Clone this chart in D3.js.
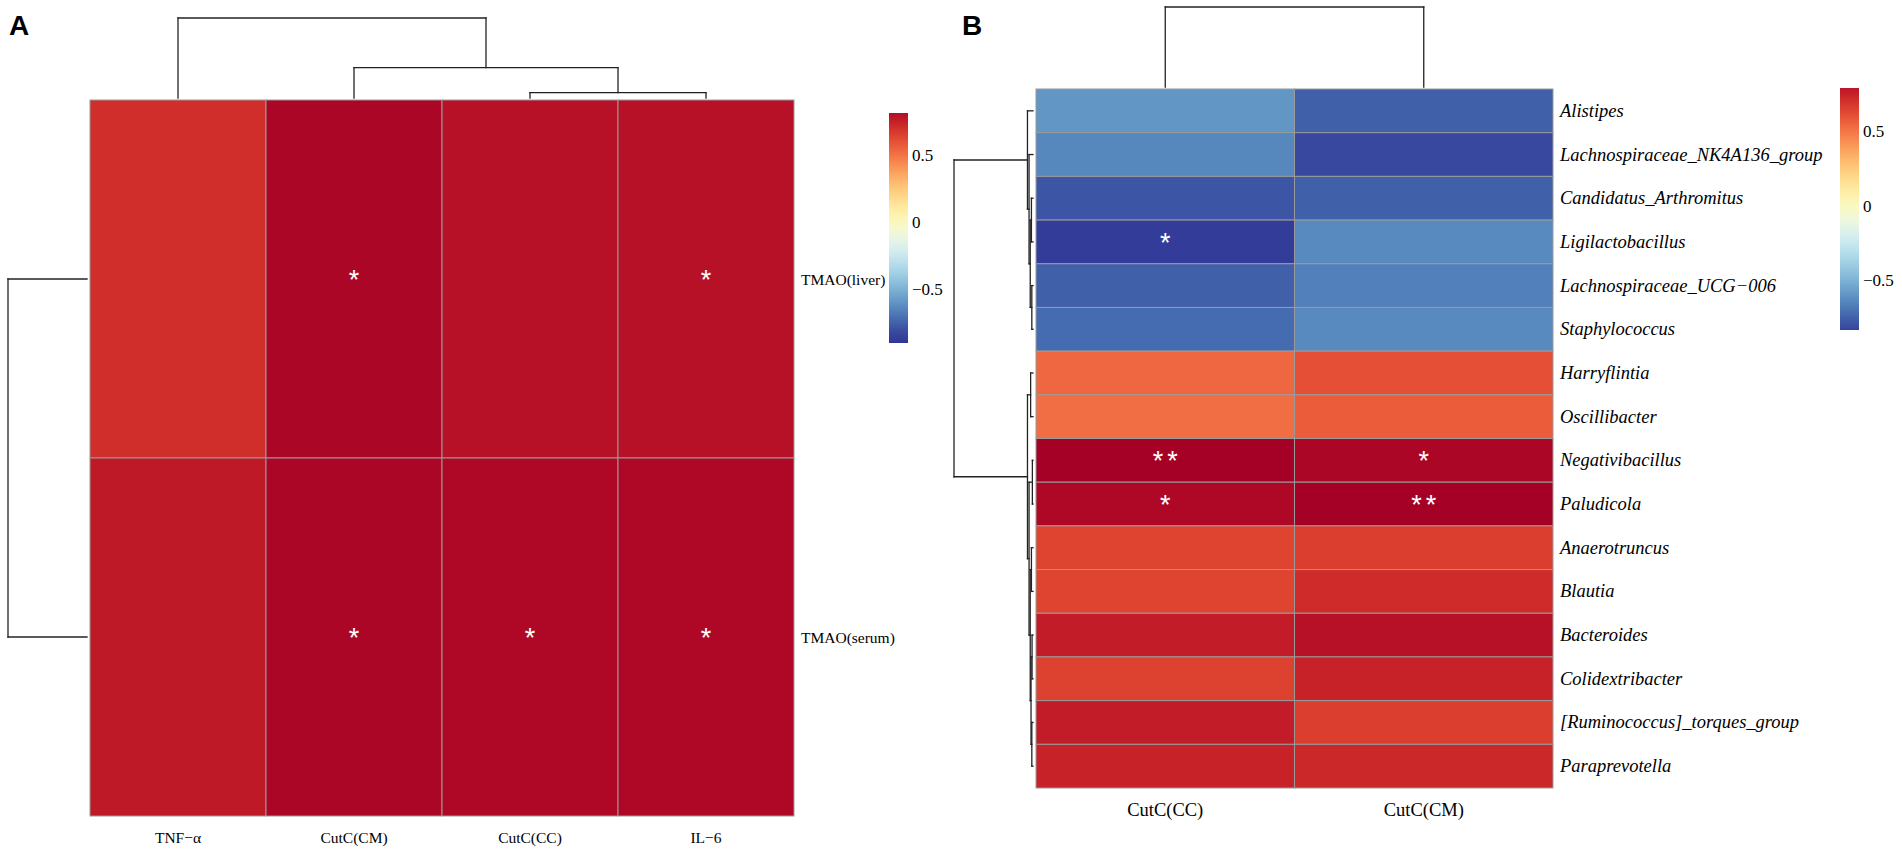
<!doctype html>
<html lang="en">
<head>
<meta charset="UTF-8">
<title>Correlation heatmaps</title>
<script src="https://cdn.jsdelivr.net/npm/d3@7"></script>
<style>
  body { margin: 0; background: #fff; }
  text { font-family: "Liberation Serif", "Times New Roman", serif; }
</style>
</head>
<body>
<script>
// ---- data, panel A ----
var colsA = ["TNF\u2212\u03b1", "CutC(CM)", "CutC(CC)", "IL\u22126"];
var rowsA = ["TMAO(liver)", "TMAO(serum)"];
var valsA = [
  [0.71, 0.85, 0.81, 0.81],
  [0.78, 0.85, 0.84, 0.84]
];
var starsA = [
  ["", "*", "", "*"],
  ["", "*", "*", "*"]
];
// column tree: [TNF, [CM, [CC, IL6]]]
var colTreeA = {h: 1, c: ["TNF\u2212\u03b1", {h: 0.38, c: ["CutC(CM)", {h: 0.067, c: ["CutC(CC)", "IL\u22126"]}]}]};
var rowTreeA = {h: 1, c: ["TMAO(liver)", "TMAO(serum)"]};
var legendTicks = [0.5, 0, -0.5];

// ---- data, panel B ----
var colsB = ["CutC(CC)", "CutC(CM)"];
var rowsB = ["Alistipes", "Lachnospiraceae_NK4A136_group", "Candidatus_Arthromitus", "Ligilactobacillus",
  "Lachnospiraceae_UCG\u2212006", "Staphylococcus", "Harryflintia", "Oscillibacter", "Negativibacillus",
  "Paludicola", "Anaerotruncus", "Blautia", "Bacteroides", "Colidextribacter",
  "[Ruminococcus]_torques_group", "Paraprevotella"];
var valsB = [
  [-0.59, -0.75], [-0.64, -0.82], [-0.78, -0.75], [-0.85, -0.63],
  [-0.75, -0.66], [-0.72, -0.63], [0.54, 0.61], [0.52, 0.57],
  [0.87, 0.85], [0.84, 0.87], [0.64, 0.66], [0.64, 0.72],
  [0.77, 0.81], [0.65, 0.75], [0.77, 0.66], [0.75, 0.73]
];
var starsB = [
  ["", ""], ["", ""], ["", ""], ["*", ""], ["", ""], ["", ""], ["", ""], ["", ""],
  ["**", "*"], ["*", "**"], ["", ""], ["", ""], ["", ""], ["", ""], ["", ""], ["", ""]
];
var colTreeB = {h: 1, c: ["CutC(CC)", "CutC(CM)"]};
var rowTreeB = {h: 1, c: [
  {h: 0.07, c: ["Alistipes", {h: 0.05, c: ["Lachnospiraceae_NK4A136_group",
    {h: 0.035, c: [{h: 0.02, c: ["Candidatus_Arthromitus", "Ligilactobacillus"]},
                   {h: 0.015, c: ["Lachnospiraceae_UCG\u2212006", "Staphylococcus"]}]}]}]},
  {h: 0.07, c: [{h: 0.03, c: ["Harryflintia", "Oscillibacter"]},
    {h: 0.05, c: [{h: 0.008, c: ["Negativibacillus", "Paludicola"]},
      {h: 0.035, c: [{h: 0.02, c: ["Anaerotruncus", "Blautia"]},
        {h: 0.025, c: [{h: 0.012, c: ["Bacteroides", "Colidextribacter"]},
                       {h: 0.015, c: ["[Ruminococcus]_torques_group", "Paraprevotella"]}]}]}]}]}
]};

var W = 1902, H = 855;
var color = d3.scaleSequential(d3.interpolateRdYlBu).domain([0.87, -0.87]);

var svg = d3.select("body").append("svg").attr("width", W).attr("height", H);

// layout a tree: returns {pos, h} with lines pushed to segs
function walk(node, leafPos, segs) {
  if (typeof node === "string") return {pos: leafPos(node), h: 0};
  var kids = node.c.map(function(k) { return walk(k, leafPos, segs); });
  kids.forEach(function(k) { segs.push({p1: k.pos, p2: k.pos, h1: k.h, h2: node.h}); });
  segs.push({p1: kids[0].pos, p2: kids[1].pos, h1: node.h, h2: node.h});
  return {pos: d3.mean(kids, function(k) { return k.pos; }), h: node.h};
}

// horizontal = true: positions along x, heights along y
function drawTree(g, tree, leafPos, hScale, horizontal) {
  var segs = [];
  walk(tree, leafPos, segs);
  g.selectAll("line").data(segs).enter().append("line")
    .attr("x1", function(d) { return horizontal ? d.p1 : hScale(d.h1); })
    .attr("x2", function(d) { return horizontal ? d.p2 : hScale(d.h2); })
    .attr("y1", function(d) { return horizontal ? hScale(d.h1) : d.p1; })
    .attr("y2", function(d) { return horizontal ? hScale(d.h2) : d.p2; })
    .attr("stroke", "#222").attr("stroke-width", 1.3).attr("stroke-linecap", "square");
}

function heatmap(cfg) {
  var x = d3.scaleBand().domain(cfg.cols).range([cfg.x0, cfg.x1]);
  var y = d3.scaleBand().domain(cfg.rows).range([cfg.y0, cfg.y1]);
  var g = svg.append("g");

  var cells = [];
  cfg.rows.forEach(function(r, i) {
    cfg.cols.forEach(function(c, j) {
      cells.push({r: r, c: c, v: cfg.vals[i][j], s: cfg.stars[i][j]});
    });
  });

  g.selectAll("rect.cell").data(cells).enter().append("rect")
    .attr("class", "cell")
    .attr("x", function(d) { return x(d.c); })
    .attr("y", function(d) { return y(d.r); })
    .attr("width", x.bandwidth())
    .attr("height", y.bandwidth())
    .attr("fill", function(d) { return color(d.v); })
    .attr("stroke", "#9a9a9a").attr("stroke-width", 1);

  g.selectAll("text.star").data(cells.filter(function(d) { return d.s; })).enter().append("text")
    .attr("class", "star")
    .attr("x", function(d) { return x(d.c) + x.bandwidth() / 2 + 2; })
    .attr("y", function(d) { return y(d.r) + y.bandwidth() / 2 + 1; })
    .attr("text-anchor", "middle").attr("dominant-baseline", "central")
    .style("font-family", "'Liberation Sans', Arial, sans-serif")
    .style("font-size", "27px").style("letter-spacing", "4px")
    .attr("fill", "#fff")
    .text(function(d) { return d.s; });

  // column labels
  g.selectAll("text.col").data(cfg.cols).enter().append("text")
    .attr("x", function(d) { return x(d) + x.bandwidth() / 2; })
    .attr("y", cfg.colLabelY)
    .attr("text-anchor", "middle").attr("dominant-baseline", "central")
    .style("font-size", cfg.fs + "px")
    .text(function(d) { return d; });

  // row labels
  g.selectAll("text.row").data(cfg.rows).enter().append("text")
    .attr("x", cfg.x1 + 7)
    .attr("y", function(d) { return y(d) + y.bandwidth() / 2; })
    .attr("dominant-baseline", "central")
    .style("font-size", cfg.fs + "px")
    .style("font-style", cfg.italic ? "italic" : "normal")
    .text(function(d) { return d; });

  // dendrograms
  var colH = d3.scaleLinear().domain([0, 1]).range([cfg.y0 - 2, cfg.colTop]);
  drawTree(g.append("g"), cfg.colTree, function(n) { return x(n) + x.bandwidth() / 2; }, colH, true);
  var rowH = d3.scaleLinear().domain([0, 1]).range([cfg.x0 - 3, cfg.rowLeft]);
  drawTree(g.append("g"), cfg.rowTree, function(n) { return y(n) + y.bandwidth() / 2; }, rowH, false);

  // legend
  var lg = cfg.legend;
  var ly = d3.scaleLinear().domain(lg.domain).range([lg.y1, lg.y0]);
  var gid = "grad" + cfg.id;
  var grad = svg.append("defs").append("linearGradient").attr("id", gid)
    .attr("x1", 0).attr("x2", 0).attr("y1", 0).attr("y2", 1);
  d3.range(0, 1.0001, 0.05).forEach(function(t) {
    grad.append("stop").attr("offset", t)
      .attr("stop-color", color(lg.domain[1] - t * (lg.domain[1] - lg.domain[0])));
  });
  g.append("rect").attr("x", lg.x).attr("y", lg.y0).attr("width", lg.w).attr("height", lg.y1 - lg.y0)
    .attr("fill", "url(#" + gid + ")");
  g.selectAll("text.leg").data(legendTicks).enter().append("text")
    .attr("x", lg.x + lg.w + 4)
    .attr("y", function(d) { return ly(d); })
    .attr("dominant-baseline", "central")
    .style("font-size", "17px")
    .text(function(d) { return d < 0 ? "\u2212" + Math.abs(d) : d; });
}

heatmap({
  id: "A", cols: colsA, rows: rowsA, vals: valsA, stars: starsA,
  x0: 90, x1: 794, y0: 100, y1: 816, colLabelY: 837, fs: 15.5, italic: false,
  colTree: colTreeA, rowTree: rowTreeA, colTop: 18, rowLeft: 8,
  legend: {x: 889, w: 19, y0: 113, y1: 343, domain: [-0.9, 0.82]}
});

heatmap({
  id: "B", cols: colsB, rows: rowsB, vals: valsB, stars: starsB,
  x0: 1036, x1: 1553, y0: 89, y1: 788, colLabelY: 810, fs: 18.5, italic: true,
  colTree: colTreeB, rowTree: rowTreeB, colTop: 7, rowLeft: 954,
  legend: {x: 1840, w: 19, y0: 88, y1: 330, domain: [-0.83, 0.79]}
});

// panel letters
svg.selectAll("text.panel").data([{t: "A", x: 9}, {t: "B", x: 962}]).enter().append("text")
  .attr("x", function(d) { return d.x; }).attr("y", 35)
  .style("font-family", "'Liberation Sans', Arial, sans-serif")
  .style("font-weight", "bold").style("font-size", "28px")
  .text(function(d) { return d.t; });
</script>
</body>
</html>
